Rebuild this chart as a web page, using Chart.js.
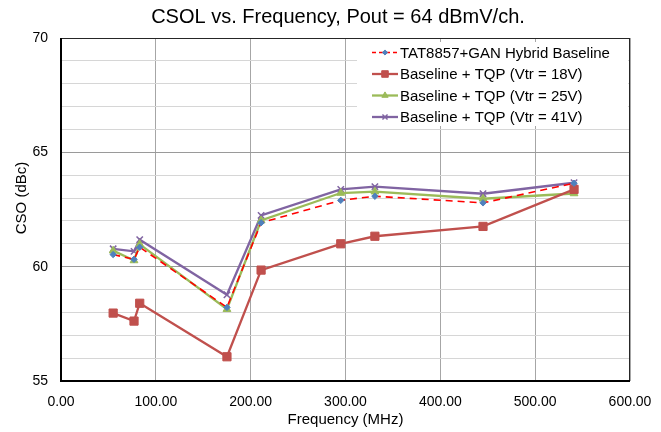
<!DOCTYPE html>
<html>
<head>
<meta charset="utf-8">
<script src="https://cdn.jsdelivr.net/npm/chart.js@4/dist/chart.umd.min.js"></script>
<style>
  html, body { margin: 0; padding: 0; background: #fff; }
  #wrap { width: 661px; height: 432px; }
</style>
</head>
<body>
<div id="wrap"><canvas id="chart" width="661" height="432"></canvas></div>
<script>
// frequencies (MHz)
const freqs = [55, 77, 83, 175, 211, 295, 331, 445, 541]

// CSO (dBc) per series
const baseline = [60.53, 60.32, 60.85, 58.22, 61.92, 62.9, 63.08, 62.79, 63.65]
const tqp18 = [57.97, 57.62, 58.4, 56.06, 59.85, 61.0, 61.33, 61.76, 63.38]
const tqp25 = [60.7, 60.27, 60.98, 58.14, 62.02, 63.22, 63.28, 62.97, 63.2]
const tqp41 = [60.78, 60.67, 61.18, 58.77, 62.24, 63.38, 63.5, 63.19, 63.67]

const seriesNames = [
  'TAT8857+GAN Hybrid Baseline',
  'Baseline + TQP (Vtr = 18V)',
  'Baseline + TQP (Vtr = 25V)',
  'Baseline + TQP (Vtr = 41V)'
]

const xTicks = [0, 100, 200, 300, 400, 500, 600]
const yTicks = [55, 60, 65, 70]

const FONT = 'Liberation Sans, Arial, sans-serif'

const pts = (vals) => freqs.map((f, i) => ({ x: f, y: vals[i] }))

const datasets = [
  {
    label: seriesNames[0], data: pts(baseline),
    borderColor: '#FF0000', borderWidth: 1.6, borderDash: [7, 5],
    pointStyle: 'rectRot', pointRadius: 3.2,
    pointBackgroundColor: '#4F81BD', pointBorderColor: '#4F81BD', pointBorderWidth: 1
  },
  {
    label: seriesNames[1], data: pts(tqp18),
    borderColor: '#C0504D', borderWidth: 2.3,
    pointStyle: 'rect', pointRadius: 5.8,
    pointBackgroundColor: '#C0504D', pointBorderColor: '#C0504D', pointBorderWidth: 1
  },
  {
    label: seriesNames[2], data: pts(tqp25),
    borderColor: '#9BBB59', borderWidth: 2.3,
    pointStyle: 'triangle', pointRadius: 4.5,
    pointBackgroundColor: '#9BBB59', pointBorderColor: '#9BBB59', pointBorderWidth: 1
  },
  {
    label: seriesNames[3], data: pts(tqp41),
    borderColor: '#8064A2', borderWidth: 2.3,
    pointStyle: 'crossRot', pointRadius: 4.5,
    pointBackgroundColor: '#8064A2', pointBorderColor: '#8064A2', pointBorderWidth: 1.5
  }
]

// title, y title, frame and legend box drawn on top of the chart area
const decor = {
  id: 'decor',
  afterDraw(chart) {
    const ctx = chart.ctx
    const a = chart.chartArea
    ctx.save()

    // title
    ctx.fillStyle = '#000'
    ctx.font = '20px ' + FONT
    ctx.textAlign = 'center'
    ctx.textBaseline = 'middle'
    ctx.fillText('CSOL vs. Frequency, Pout = 64 dBmV/ch.', 338, 17)

    // y axis title
    ctx.save()
    ctx.translate(22, 198)
    ctx.rotate(-Math.PI / 2)
    ctx.font = '15px ' + FONT
    ctx.fillText('CSO (dBc)', 0, 0)
    ctx.restore()

    // frame
    ctx.strokeStyle = '#262626'
    ctx.lineWidth = 1
    ctx.strokeRect(a.left + 0.5, a.top + 0.5, a.right - a.left - 1, a.bottom - a.top - 1)
    ctx.strokeStyle = '#000'
    ctx.lineWidth = 2
    ctx.beginPath()
    ctx.moveTo(a.left, a.top)
    ctx.lineTo(a.left, a.bottom)
    ctx.lineTo(a.right, a.bottom)
    ctx.stroke()

    // legend
    const lx = 357, ly = 42
    ctx.fillStyle = '#fff'
    ctx.fillRect(lx, ly, a.right - 2 - lx, 84)
    ctx.font = '15px ' + FONT
    ctx.textAlign = 'left'
    chart.data.datasets.forEach((ds, i) => {
      const y = 52.5 + i * 21.5
      ctx.strokeStyle = ds.borderColor
      ctx.lineWidth = ds.borderWidth
      ctx.setLineDash(ds.borderDash ? [4, 3] : [])
      ctx.beginPath()
      ctx.moveTo(372, y)
      ctx.lineTo(398, y)
      ctx.stroke()
      ctx.setLineDash([])
      ctx.fillStyle = ds.pointBackgroundColor
      ctx.strokeStyle = ds.pointBorderColor
      ctx.lineWidth = ds.pointBorderWidth
      Chart.helpers.drawPoint(ctx, {
        pointStyle: ds.pointStyle, radius: ds.pointRadius * 0.8, rotation: 0,
        borderWidth: ds.pointBorderWidth
      }, 385, y)
      ctx.fillStyle = '#000'
      ctx.fillText(ds.label, 400, y + 1)
    })
    ctx.restore()
  }
}

new Chart(document.getElementById('chart'), {
  type: 'line',
  data: { datasets },
  options: {
    responsive: false,
    animation: false,
    layout: { padding: { top: 38, right: 31, left: 0, bottom: 0 } },
    plugins: { legend: { display: false }, title: { display: false }, tooltip: { enabled: false } },
    scales: {
      x: {
        type: 'linear', min: 0, max: 600,
        afterFit: (s) => { s.height = 51; s.paddingLeft = 0; s.paddingRight = 0 },
        afterBuildTicks: (s) => { s.ticks = xTicks.map(v => ({ value: v })) },
        ticks: {
          padding: 13, color: '#000', font: { family: FONT, size: 14 },
          callback: (v) => v.toFixed(2), maxRotation: 0
        },
        grid: { color: '#a6a6a6', drawTicks: false },
        border: { display: false },
        title: { display: true, text: 'Frequency (MHz)', color: '#000', font: { family: FONT, size: 15 }, padding: { top: 0, bottom: 3 } }
      },
      y: {
        min: 55, max: 70,
        afterFit: (s) => { s.width = 61; s.paddingTop = 0; s.paddingBottom = 0 },
        ticks: {
          stepSize: 1, padding: 13, color: '#000', font: { family: FONT, size: 14 },
          callback: (v) => yTicks.includes(v) ? String(v) : ''
        },
        grid: {
          drawTicks: false,
          color: (c) => (c.tick && c.tick.value % 5 === 0) ? '#9a9a9a' : '#d6d6d6'
        },
        border: { display: false },
        title: { display: false }
      }
    }
  },
  plugins: [decor]
})
</script>
</body>
</html>
